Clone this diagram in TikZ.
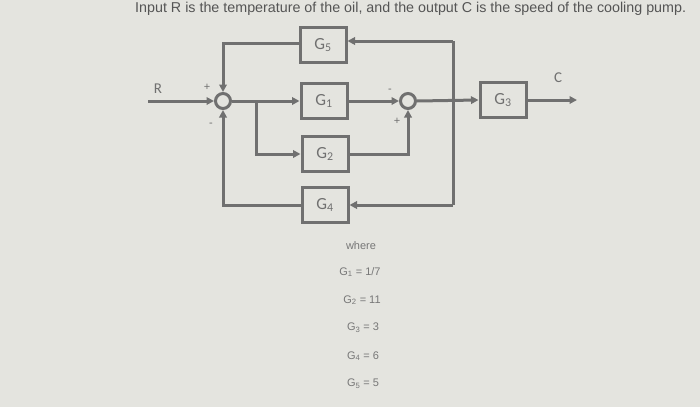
\documentclass[tikz,border=0pt]{standalone}
\usepackage{fontspec}
\setmainfont{Liberation Sans}
\newfontfamily\boxfont{Carlito}
\usetikzlibrary{arrows.meta}
\definecolor{bg}{RGB}{228,228,223}
\definecolor{ln}{RGB}{112,112,112}
\definecolor{tx}{RGB}{95,95,95}
\begin{document}
\begin{tikzpicture}[x=1pt,y=-1pt,
  wire/.style={draw=ln,line width=3pt},
  arr/.style={wire,-{Triangle[length=7.5pt,width=7.5pt]}},
  blk/.style={draw=ln,line width=3pt,minimum width=46pt,minimum height=35pt,inner sep=0pt,font=\boxfont\fontsize{17}{17}\selectfont,text=ln},
  sumj/.style={circle,draw=ln,line width=3pt,minimum size=15pt,inner sep=0pt},
  sgn/.style={text=ln,font=\fontsize{11}{11}\selectfont,inner sep=0pt},
  lst/.style={text=tx!85,font=\fontsize{11}{11}\selectfont,inner sep=0pt}]
\fill[bg] (0,0) rectangle (700,407);
\useasboundingbox (0,0) rectangle (700,407);
\node[anchor=base west,text=tx!90!black,font=\fontsize{14.3}{14.3}\selectfont,inner sep=0pt] (title) at (135,12) {Input R is the temperature of the oil, and the output C is the speed of the cooling pump.};
\node[sumj] (s1) at (223,101) {};
\node[sumj] (s2) at (408,101) {};
\node[blk] (g5) at (323,45) {G\textsubscript{5}};
\node[blk] (g1) at (324,101) {G\textsubscript{1}};
\node[blk] (g2) at (325,154) {G\textsubscript{2}};
\node[blk] (g4) at (325,205) {G\textsubscript{4}};
\node[blk] (g3) at (503,100) {G\textsubscript{3}};
\coordinate (rin) at (148,101);
\coordinate (cout) at (577,100);
\coordinate (br) at (256,101);
\coordinate (tap) at (453,101);
\coordinate (tr) at (453,41);
\coordinate (brc) at (453,205);
\node[text=ln,font=\boxfont\fontsize{15}{15}\selectfont] (rl) at (158,89) {R};
\node[text=ln,font=\boxfont\fontsize{15}{15}\selectfont] (cl) at (558,78) {C};
\node[sgn] (p1) at (207,87) {+};
\node[sgn] (m1) at (211,125) {-};
\node[sgn] (m2) at (390,91) {-};
\node[sgn] (p2) at (397,121) {+};
\draw[arr] (rin) -- (s1.west);
\draw[arr] (s1.east) -- (g1.west);
\draw[arr] (br) |- (g2.west);
\draw[arr] (g1.east) -- (s2.west);
\draw[arr] (g2.east) -| (s2.south);
\draw[arr] (s2.east) -- (g3.west);
\draw[arr] (g3.east) -- (cout);
\draw[wire] (tr) -- (brc);
\draw[arr] (tr) -- (g5.east |- tr);
\draw[arr] (brc) -- (g4.east);
\draw[arr] (g5.west |- 0,43) -| (s1.north);
\draw[arr] (g4.west) -| (s1.south);
\node[lst] (w) at (361,246) {where};
\node[lst] (l1) at (360,272) {G\textsubscript{1} = 1/7};
\node[lst] (l2) at (362,300) {G\textsubscript{2} = 11};
\node[lst] (l3) at (363,328) {G\textsubscript{3} = 3};
\node[lst] (l4) at (363,356) {G\textsubscript{4} = 6};
\node[lst] (l5) at (363,384) {G\textsubscript{5} = 5};
\end{tikzpicture}
\end{document}
